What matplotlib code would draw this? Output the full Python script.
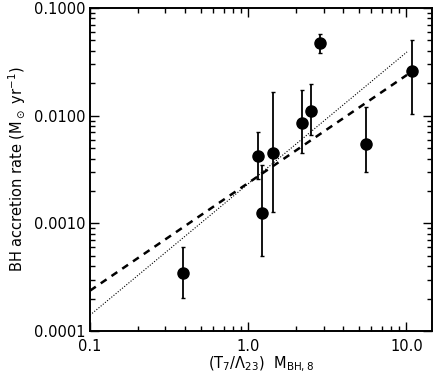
import matplotlib
matplotlib.use('Agg')
import matplotlib.pyplot as plt
import numpy as np
from matplotlib.ticker import FixedLocator, LogLocator, NullFormatter

plt.rcParams['font.family'] = ['DejaVu Sans']
plt.rcParams['mathtext.fontset'] = 'dejavusans'

# data
x_vals = [0.389, 1.16, 1.226, 1.44, 2.19, 2.49, 2.86, 5.56, 10.8]
y_vals = [0.000349, 0.0042, 0.00126, 0.00452, 0.0086, 0.0110, 0.0469, 0.00548, 0.0262]
y_hi = [0.00060, 0.0070, 0.00347, 0.0166, 0.0173, 0.0199, 0.0577, 0.0121, 0.0500]
y_lo = [0.000201, 0.00259, 0.00050, 0.00127, 0.00446, 0.00655, 0.0380, 0.00298, 0.0104]

# fitted relations
fit_x = [0.1, 10.1]
dash_norm, dash_slope = 0.00237, 1.0
dot_norm, dot_slope = 0.00233, 1.22

x_ticks = [0.1, 1.0, 10.0]
y_ticks = [0.0001, 0.001, 0.01, 0.1]

fig = plt.figure(figsize=(4.38, 3.82), dpi=100)
ax = fig.add_axes([0.2055, 0.1335, 0.7805, 0.8455])

x = np.array(x_vals)
y = np.array(y_vals)
yerr = [y - np.array(y_lo), np.array(y_hi) - y]
ax.errorbar(x, y, yerr=yerr, fmt='o', color='black', ms=8, capsize=1.6,
            elinewidth=1.3, capthick=1.0, zorder=3)

fx = np.array(fit_x)
ax.plot(fx, dash_norm * fx ** dash_slope, color='black', lw=1.8, ls=(0, (2.8, 2.4)))
ax.plot(fx, dot_norm * fx ** dot_slope, color='black', lw=0.8, ls=(0, (1, 1.5)))

ax.set_xscale('log')
ax.set_yscale('log')
ax.set_xlim(0.1, 14.5)
ax.set_ylim(0.0001, 0.1)

ax.xaxis.set_major_locator(FixedLocator(x_ticks))
ax.yaxis.set_major_locator(FixedLocator(y_ticks))
ax.set_xticklabels(['%.1f' % v for v in x_ticks])
ax.set_yticklabels(['%.4f' % v for v in y_ticks])
ax.xaxis.set_minor_locator(LogLocator(base=10, subs=np.arange(2, 10)))
ax.yaxis.set_minor_locator(LogLocator(base=10, subs=np.arange(2, 10)))
ax.xaxis.set_minor_formatter(NullFormatter())
ax.yaxis.set_minor_formatter(NullFormatter())

ax.tick_params(which='both', direction='in', top=True, right=True, width=1.0,
               labelsize=10.5)
ax.tick_params(which='major', length=6.5)
ax.tick_params(which='minor', length=3.5)
ax.tick_params(axis='x', pad=6)
for s in ax.spines.values():
    s.set_linewidth(1.4)

ax.set_xlabel(r'(T$_7$/$\Lambda_{23}$)  M$_{\rm BH,8}$', fontsize=10.5, labelpad=0)
ax.set_ylabel(r'BH accretion rate (M$_\odot$ yr$^{-1}$)', fontsize=10.5, labelpad=4)

fig.savefig('out.png', dpi=100)
